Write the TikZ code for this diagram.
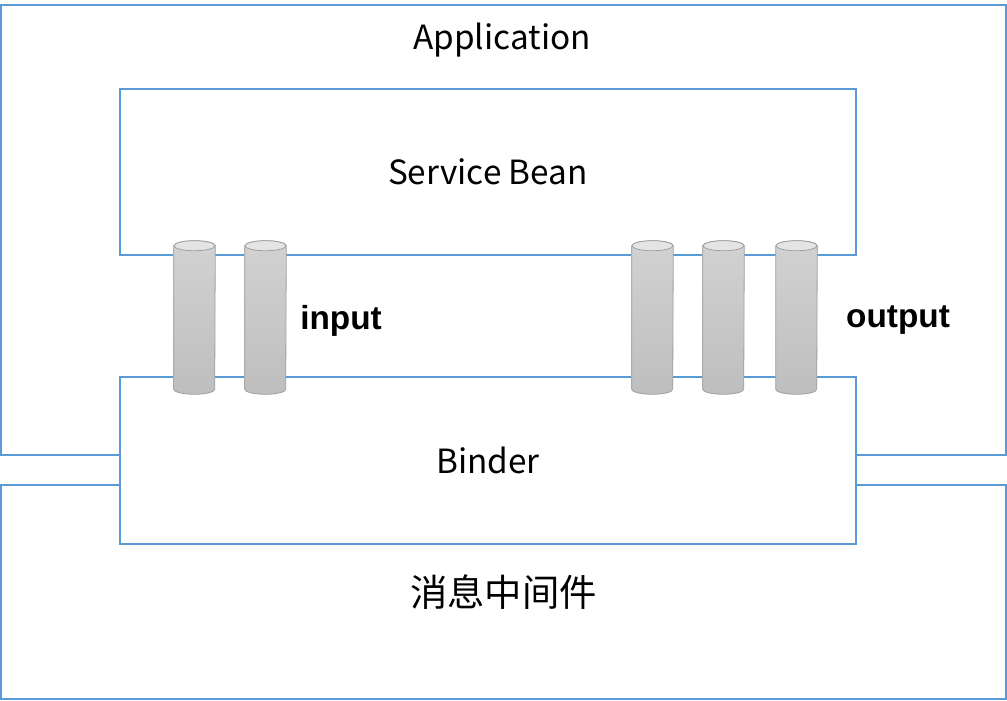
\documentclass[tikz,border=0pt]{standalone}
\usepackage{fontspec}
\setmainfont{Noto Sans CJK SC}
\newfontfamily\lblfont{Liberation Sans}
\usepackage{xcolor}
\usepackage{tikz}
\usetikzlibrary{calc}

\definecolor{frameblue}{HTML}{5B9BD5}
\definecolor{pipehi}{HTML}{D2D2D2}
\definecolor{pipelo}{HTML}{BEBEBE}
\definecolor{pipetop}{HTML}{E4E4E4}
\definecolor{pipeline}{HTML}{A0A0A0}

\begin{document}
\begin{tikzpicture}[
        x=0.75pt, y=-0.75pt, font=\fontsize{25}{30}\selectfont,
        every node/.style={align=center, inner sep=0pt},
        layer/.style   ={rectangle, draw=frameblue, line width=1pt, fill=white},
        pipe/.style    ={rectangle, minimum width=30.75pt, minimum height=114.75pt},
        pipebody/.style={top color=pipehi, bottom color=pipelo,
                         draw=pipeline, line width=0.6pt},
        pipecap/.style ={fill=pipetop, draw=pipeline, line width=0.6pt},
        tag/.style     ={font=\lblfont\bfseries\fontsize{25}{30}\selectfont},
    ]
        \useasboundingbox (0,0) rectangle (1007,700);

        % ===================== Capas exteriores =====================
        \node[layer, minimum width=753.75pt, minimum height=337.5pt] (app) at (503.5,230) {};
        \node (apptxt) at (502,40.5) {Application};
        \node[layer, minimum width=753.75pt, minimum height=160.5pt] (mw) at (503.5,592)
            {\fontsize{28}{32}\selectfont 消息中间件};

        % ===================== Service Bean y Binder =====================
        \node[layer, minimum width=552pt, minimum height=124.5pt] (bean) at (488,172) {Service Bean};
        \node[layer, minimum width=552pt, minimum height=125.25pt] (binder) at (488,460.5) {Binder};

        % ===================== Canales =====================
        \node[pipe] (in1)  at (194.5,317.5) {};
        \node[pipe] (in2)  at (265.5,317.5) {};
        \node[pipe] (out1) at (652.5,317.5) {};
        \node[pipe] (out2) at (723.5,317.5) {};
        \node[pipe] (out3) at (796.5,317.5) {};

        \foreach \p in {in1,in2,out1,out2,out3} {
            \draw[pipebody] ($(\p.north west)+(0,-3.75pt)$) -- ($(\p.south west)+(0,3.75pt)$)
                arc[start angle=180, end angle=360, x radius=15.375pt, y radius=3.75pt]
                -- ($(\p.north east)+(0,-3.75pt)$)
                arc[start angle=0, end angle=180, x radius=15.375pt, y radius=3.75pt] -- cycle;
            \draw[pipecap] ($(\p.north)+(0,-3.75pt)$) ellipse[x radius=15.375pt, y radius=3.75pt];
        }

        \node[tag] (intxt)  at (341,320.5) {input};
        \node[tag] (outtxt) at (898,320.5) {output};
    \end{tikzpicture}
\end{document}
